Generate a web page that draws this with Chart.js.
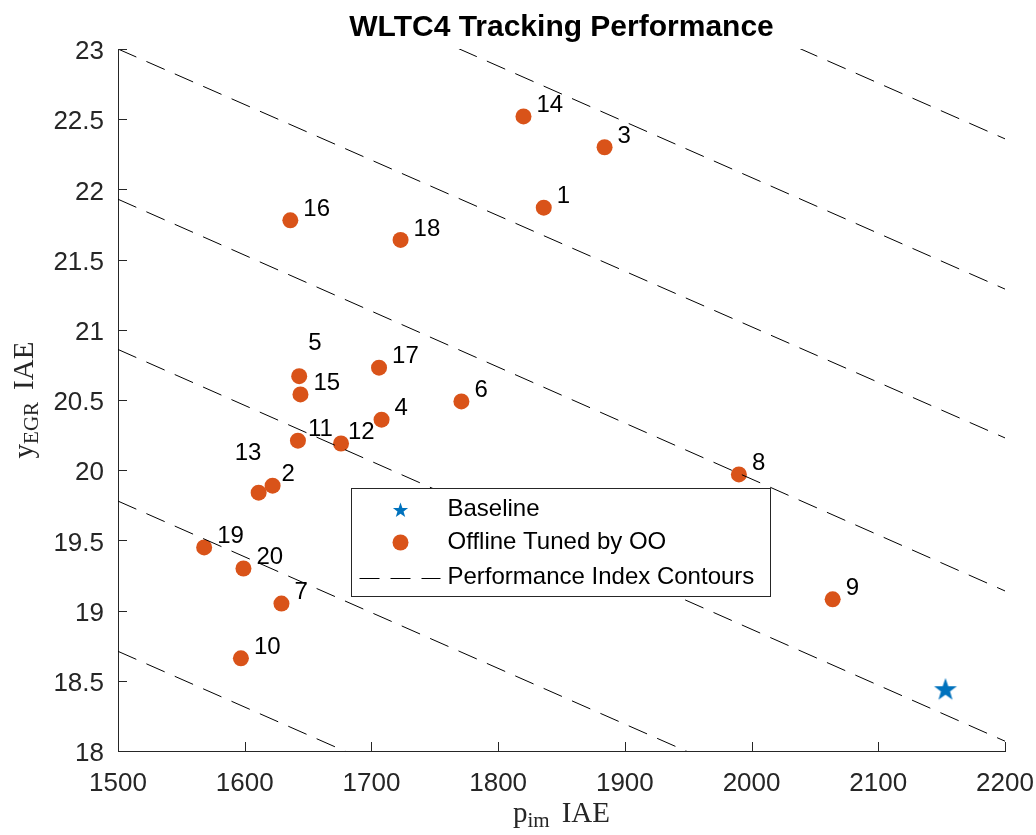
<!DOCTYPE html>
<html>
<head>
<meta charset="utf-8">
<script src="https://cdn.jsdelivr.net/npm/chart.js@4/dist/chart.umd.min.js"></script>
<style>
  body { margin: 0; background: #fff; }
  #wrap { width: 1036px; height: 835px; position: relative; }
</style>
</head>
<body>
<div id="wrap"><canvas id="perfChart"></canvas></div>
<script>
// offline tuned runs (OO)
const runLabels = ["1", "2", "3", "4", "5", "6", "7", "8", "9", "10",
                   "11", "12", "13", "14", "15", "16", "17", "18", "19", "20"];
const pimIAE  = [1836, 1622, 1884, 1708, 1643, 1771, 1629, 1990, 2064, 1597,
                 1642, 1676, 1611, 1820, 1644, 1636, 1706, 1723, 1568, 1599];
const yegrIAE = [21.87, 19.89, 22.30, 20.36, 20.67, 20.49, 19.05, 19.97, 19.08, 18.66,
                 20.21, 20.19, 19.84, 22.52, 20.54, 21.78, 20.73, 21.64, 19.45, 19.30];

// baseline controller
const baselinePim  = [2153];
const baselineYegr = [18.44];

// performance index contours: y where each dashed line meets x=1500 and x=2200
const contourX      = [1500, 2200];
const contourStartY = [25.14, 24.07, 23.00, 21.93, 20.86, 19.78, 18.71];
const contourEndY   = [22.36, 21.29, 20.23, 19.14, 18.07, 17.00, 15.93];

// axis ticks
const xTickValues = [1500, 1600, 1700, 1800, 1900, 2000, 2100, 2200];
const yTickValues = [18, 18.5, 19, 19.5, 20, 20.5, 21, 21.5, 22, 22.5, 23];

const ORANGE = "#D95319";
const BLUE = "#0072BD";
const AXIS = "#262626";
const SANS = "'Liberation Sans', Arial, sans-serif";
const SERIF = "'Liberation Serif', 'Times New Roman', serif";

// label offsets for the few numbers that were moved by hand
const labelNudge = { "5": [9, -33], "13": [-24, -39], "11": [10, -11], "12": [7, -11], "2": [9, -11] };

function starPath(ctx, cx, cy, rOut) {
    const rIn = rOut * 0.4;
    ctx.beginPath();
    for (let i = 0; i < 10; i++) {
        const r = i % 2 === 0 ? rOut : rIn;
        const a = -Math.PI / 2 + i * Math.PI / 5;
        const px = cx + r * Math.cos(a), py = cy + r * Math.sin(a);
        if (i === 0) ctx.moveTo(px, py); else ctx.lineTo(px, py);
    }
    ctx.closePath();
}

// filled pentagram used as point style
const starImg = document.createElement("canvas");
starImg.width = 26;
starImg.height = 26;
(function () {
    const c = starImg.getContext("2d");
    c.fillStyle = BLUE;
    starPath(c, 13, 13.8, 12);
    c.fill();
})();

function drawMathLabel(ctx, base, sub, tail, cx, cy, angle) {
    const big = "29px " + SERIF, small = "21px " + SERIF;
    ctx.save();
    ctx.translate(cx, cy);
    ctx.rotate(angle);
    ctx.font = big;
    const w1 = ctx.measureText(base).width, w3 = ctx.measureText(tail).width;
    ctx.font = small;
    const w2 = ctx.measureText(sub).width;
    const gap = 12;
    let x = -(w1 + w2 + gap + w3) / 2;
    ctx.textAlign = "left";
    ctx.textBaseline = "alphabetic";
    ctx.fillStyle = AXIS;
    ctx.font = big;
    ctx.fillText(base, x, 0);
    x += w1;
    ctx.font = small;
    ctx.fillText(sub, x, 5);
    x += w2 + gap;
    ctx.font = big;
    ctx.fillText(tail, x, 0);
    ctx.restore();
}

const figureDecor = {
    id: "figureDecor",
    afterDatasetsDraw(chart) {
        const ctx = chart.ctx;
        const area = chart.chartArea;
        const xs = chart.scales.x, ys = chart.scales.y;
        ctx.save();

        // inward tick marks (matlab style)
        ctx.strokeStyle = AXIS;
        ctx.lineWidth = 1;
        ctx.beginPath();
        xTickValues.forEach(v => {
            const px = Math.round(xs.getPixelForValue(v)) + 0.5;
            ctx.moveTo(px, area.bottom);
            ctx.lineTo(px, area.bottom - 9);
        });
        yTickValues.forEach(v => {
            const py = Math.round(ys.getPixelForValue(v)) + 0.5;
            ctx.moveTo(area.left, py);
            ctx.lineTo(area.left + 9, py);
        });
        ctx.stroke();

        // run numbers next to the dots
        ctx.font = "24px " + SANS;
        ctx.fillStyle = "#000";
        ctx.textAlign = "left";
        ctx.textBaseline = "middle";
        runLabels.forEach((lab, i) => {
            const off = labelNudge[lab] || [13, -11];
            ctx.fillText(lab, xs.getPixelForValue(pimIAE[i]) + off[0], ys.getPixelForValue(yegrIAE[i]) + off[1]);
        });

        // title
        ctx.font = "bold 30px " + SANS;
        ctx.textAlign = "center";
        ctx.textBaseline = "alphabetic";
        ctx.fillText("WLTC4 Tracking Performance", (area.left + area.right) / 2, 36);

        // axis titles
        drawMathLabel(ctx, "p", "im", "IAE", (area.left + area.right) / 2, 822, 0);
        drawMathLabel(ctx, "y", "EGR", "IAE", 33, 400, -Math.PI / 2);

        // legend box
        const lx = area.left + 233.5, ly = area.top + 439.5, lw = 419, lh = 108;
        ctx.fillStyle = "#fff";
        ctx.fillRect(lx, ly, lw, lh);
        ctx.strokeStyle = AXIS;
        ctx.strokeRect(lx, ly, lw, lh);

        const mx = lx + 49, tx = lx + 96;
        const rows = [ly + 21, ly + 54, ly + 89];
        ctx.fillStyle = BLUE;
        starPath(ctx, mx, rows[0] + 1, 8);
        ctx.fill();
        ctx.fillStyle = ORANGE;
        ctx.beginPath();
        ctx.arc(mx, rows[1], 8, 0, Math.PI * 2);
        ctx.fill();
        ctx.strokeStyle = "#000";
        ctx.setLineDash([20, 11]);
        ctx.beginPath();
        ctx.moveTo(lx + 8, Math.round(rows[2]) + 0.5);
        ctx.lineTo(lx + 89, Math.round(rows[2]) + 0.5);
        ctx.stroke();
        ctx.setLineDash([]);

        ctx.font = "24px " + SANS;
        ctx.fillStyle = "#000";
        ctx.textAlign = "left";
        ctx.textBaseline = "middle";
        ctx.fillText("Baseline", tx, rows[0]);
        ctx.fillText("Offline Tuned by OO", tx, rows[1]);
        ctx.fillText("Performance Index Contours", tx, rows[2]);

        ctx.restore();
    }
};

const contourSets = contourStartY.map((y0, i) => ({
    type: "line",
    label: "contour" + i,
    data: [{ x: contourX[0], y: y0 }, { x: contourX[1], y: contourEndY[i] }],
    borderColor: "#000",
    borderWidth: 1,
    borderDash: [20, 11],
    pointRadius: 0,
    fill: false,
    order: 0
}));

const ctx = document.getElementById("perfChart").getContext("2d");

new Chart(ctx, {
    type: "scatter",
    data: {
        datasets: [
            {
                label: "Baseline",
                data: baselinePim.map((x, i) => ({ x: x, y: baselineYegr[i] })),
                pointStyle: starImg,
                pointRadius: 12,
                order: 1
            },
            {
                label: "Offline Tuned by OO",
                data: pimIAE.map((x, i) => ({ x: x, y: yegrIAE[i] })),
                backgroundColor: ORANGE,
                borderWidth: 0,
                pointRadius: 8,
                pointHoverRadius: 8,
                order: 1
            },
            ...contourSets
        ]
    },
    options: {
        responsive: true,
        maintainAspectRatio: false,
        animation: false,
        events: [],
        layout: { padding: { top: 49, right: 31, left: 0, bottom: 0 } },
        plugins: {
            legend: { display: false },
            title: { display: false },
            tooltip: { enabled: false }
        },
        scales: {
            x: {
                type: "linear",
                min: 1500,
                max: 2200,
                afterBuildTicks: s => { s.ticks = xTickValues.map(v => ({ value: v })); },
                afterFit: s => { s.height = 84; s.paddingLeft = 0; s.paddingRight = 0; },
                grid: { display: false, drawTicks: false },
                border: { display: true, color: AXIS, width: 1 },
                ticks: {
                    color: AXIS, font: { family: SANS, size: 26 }, padding: 17, maxRotation: 0,
                    callback: v => String(v)
                }
            },
            y: {
                type: "linear",
                min: 18,
                max: 23,
                afterBuildTicks: s => { s.ticks = yTickValues.map(v => ({ value: v })); },
                afterFit: s => { s.width = 118; s.paddingTop = 0; s.paddingBottom = 0; },
                grid: { display: false, drawTicks: false },
                border: { display: true, color: AXIS, width: 1 },
                ticks: {
                    color: AXIS, font: { family: SANS, size: 26 }, padding: 14, labelOffset: 3,
                    callback: v => String(v)
                }
            }
        }
    },
    plugins: [figureDecor]
});
</script>
</body>
</html>
